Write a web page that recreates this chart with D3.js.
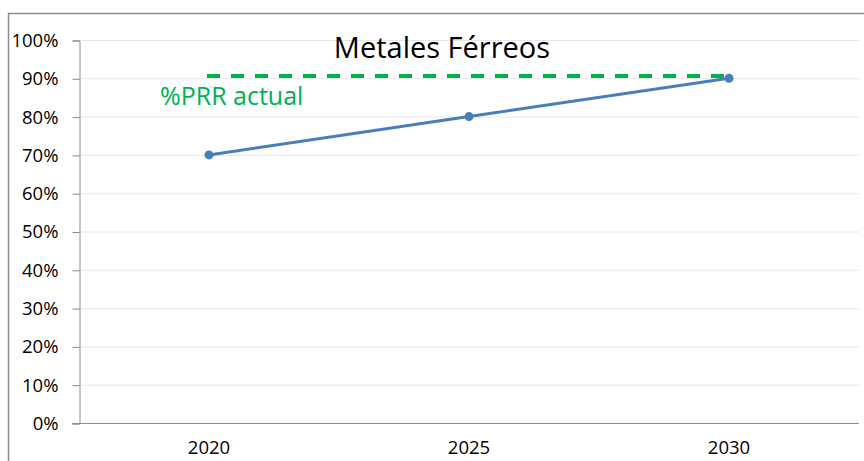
<!DOCTYPE html>
<html>
<head>
<meta charset="utf-8">
<script src="https://cdn.jsdelivr.net/npm/d3@7"></script>
<style>
  body { margin: 0; background: #fff; }
  text { font-family: "Open Sans", Lato, sans-serif; }
</style>
</head>
<body>
<svg id="chart" width="864" height="461"></svg>
<script>
const years = ["2020", "2025", "2030"];
const values = [70, 80, 90];          // % per year
const refValue = 90.6;                // %PRR actual (dashed)
const yTicks = [0, 10, 20, 30, 40, 50, 60, 70, 80, 90, 100];
const title = "Metales Férreos";
const refLabel = "%PRR actual";

const width = 864, height = 461;
const margin = { top: 40, right: 5, bottom: 38, left: 79 };

const svg = d3.select("#chart");

// outer chart frame
svg.append("rect")
  .attr("x", 8.5).attr("y", 13.5)
  .attr("width", 900).attr("height", 500)
  .attr("fill", "none")
  .attr("stroke", "#8c8c8c")
  .attr("stroke-width", 1.5);

const x = d3.scaleBand()
  .domain(years)
  .range([margin.left, width - margin.right]);

const y = d3.scaleLinear()
  .domain([0, 100])
  .range([height - margin.bottom, margin.top]);

// gridlines
svg.append("g")
  .selectAll("line")
  .data(yTicks.filter(d => d > 0))
  .join("line")
  .attr("x1", margin.left).attr("x2", width - margin.right)
  .attr("y1", d => y(d) + 0.5).attr("y2", d => y(d) + 0.5)
  .attr("stroke", "#e6e6e6");

// y axis
const yAxis = svg.append("g")
  .attr("transform", `translate(${margin.left + 0.5},0.5)`)
  .call(d3.axisLeft(y).tickValues(yTicks).tickSize(7).tickPadding(14).tickFormat(d => d + "%"));
yAxis.select(".domain").attr("stroke", "#8c8c8c");
yAxis.selectAll(".tick line").attr("stroke", "#8c8c8c");
yAxis.selectAll("text").attr("font-size", 18.5).attr("fill", "#000");

// x axis
const xAxis = svg.append("g")
  .attr("transform", `translate(0,${height - margin.bottom + 0.5})`)
  .call(d3.axisBottom(x).tickSize(0).tickPadding(17));
xAxis.select(".domain").attr("stroke", "#8c8c8c").attr("d", `M${margin.left - 7},0H${width - margin.right}`);
xAxis.selectAll("text").attr("font-size", 18.5).attr("fill", "#000");

// reference dashed line
svg.append("line")
  .attr("x1", x(years[0]) + x.bandwidth() / 2 - 2)
  .attr("x2", x(years[years.length - 1]) + x.bandwidth() / 2)
  .attr("y1", y(refValue)).attr("y2", y(refValue))
  .attr("stroke", "#00B050")
  .attr("stroke-width", 4)
  .attr("stroke-dasharray", "13,11");

svg.append("text")
  .attr("x", 160).attr("y", 105)
  .attr("font-size", 25)
  .attr("fill", "#00B050")
  .text(refLabel);

// series line
const line = d3.line()
  .x((d, i) => x(years[i]) + x.bandwidth() / 2)
  .y(d => y(d));

svg.append("path")
  .datum(values)
  .attr("d", line)
  .attr("fill", "none")
  .attr("stroke", "#4A7EBB")
  .attr("stroke-width", 3);

svg.append("g")
  .selectAll("circle")
  .data(values)
  .join("circle")
  .attr("cx", (d, i) => x(years[i]) + x.bandwidth() / 2)
  .attr("cy", d => y(d))
  .attr("r", 4.5)
  .attr("fill", "#4A7EBB");

// title
svg.append("text")
  .attr("x", 442).attr("y", 58)
  .attr("text-anchor", "middle")
  .attr("font-size", 29)
  .attr("fill", "#000")
  .text(title);
</script>
</body>
</html>
